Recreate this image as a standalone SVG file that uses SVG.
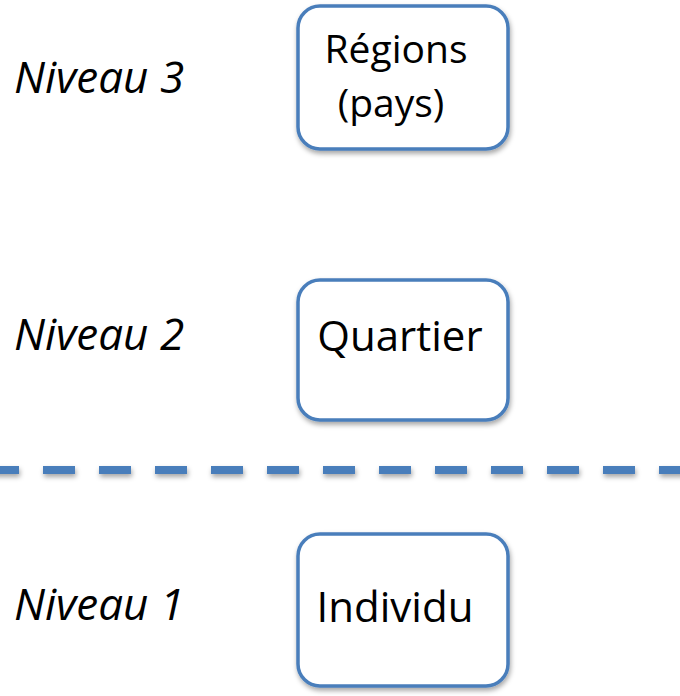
<svg xmlns="http://www.w3.org/2000/svg" width="680" height="696" viewBox="0 0 680 696">
<defs>
<filter id="sh" x="-10%" y="-10%" width="130%" height="130%">
<feDropShadow dx="1" dy="3" stdDeviation="2.5" flood-color="#000" flood-opacity="0.35"/>
</filter>
<filter id="shl" filterUnits="userSpaceOnUse" x="-20" y="450" width="720" height="45">
<feDropShadow dx="1" dy="3" stdDeviation="2.5" flood-color="#000" flood-opacity="0.35"/>
</filter>
</defs>
<style>
.box{fill:#fff;stroke:#4a7ebb;stroke-width:3.5}
.t{font-family:"Open Sans","Liberation Sans",sans-serif;font-size:42px;fill:#000}
.t2{font-size:39px}
.lv{font-family:"Open Sans","Liberation Sans",sans-serif;font-size:44px;font-style:italic;fill:#000}
</style>
<rect width="680" height="696" fill="#fff"/>
<g id="connectors">
<line x1="-13" y1="470" x2="690" y2="470" stroke="#4a7ebb" stroke-width="8" stroke-dasharray="32 24" filter="url(#shl)"/>
</g>
<g id="label3"><text class="lv" x="14" y="93">Niveau 3</text></g>
<g id="label2"><text class="lv" x="14" y="350">Niveau 2</text></g>
<g id="label1"><text class="lv" x="14" y="620">Niveau 1</text></g>
<g id="regions">
<rect class="box" x="298" y="6" width="210" height="143" rx="22" filter="url(#sh)"/>
<text class="t t2" x="396" y="63" text-anchor="middle">Régions</text>
<text class="t t2" x="391" y="117" text-anchor="middle">(pays)</text>
</g>
<g id="quartier">
<rect class="box" x="298" y="280" width="210" height="140" rx="22" filter="url(#sh)"/>
<text class="t" x="400" y="351" text-anchor="middle">Quartier</text>
</g>
<g id="individu">
<rect class="box" x="298" y="534" width="210" height="152" rx="22" filter="url(#sh)"/>
<text class="t" x="395" y="622" text-anchor="middle">Individu</text>
</g>
</svg>
